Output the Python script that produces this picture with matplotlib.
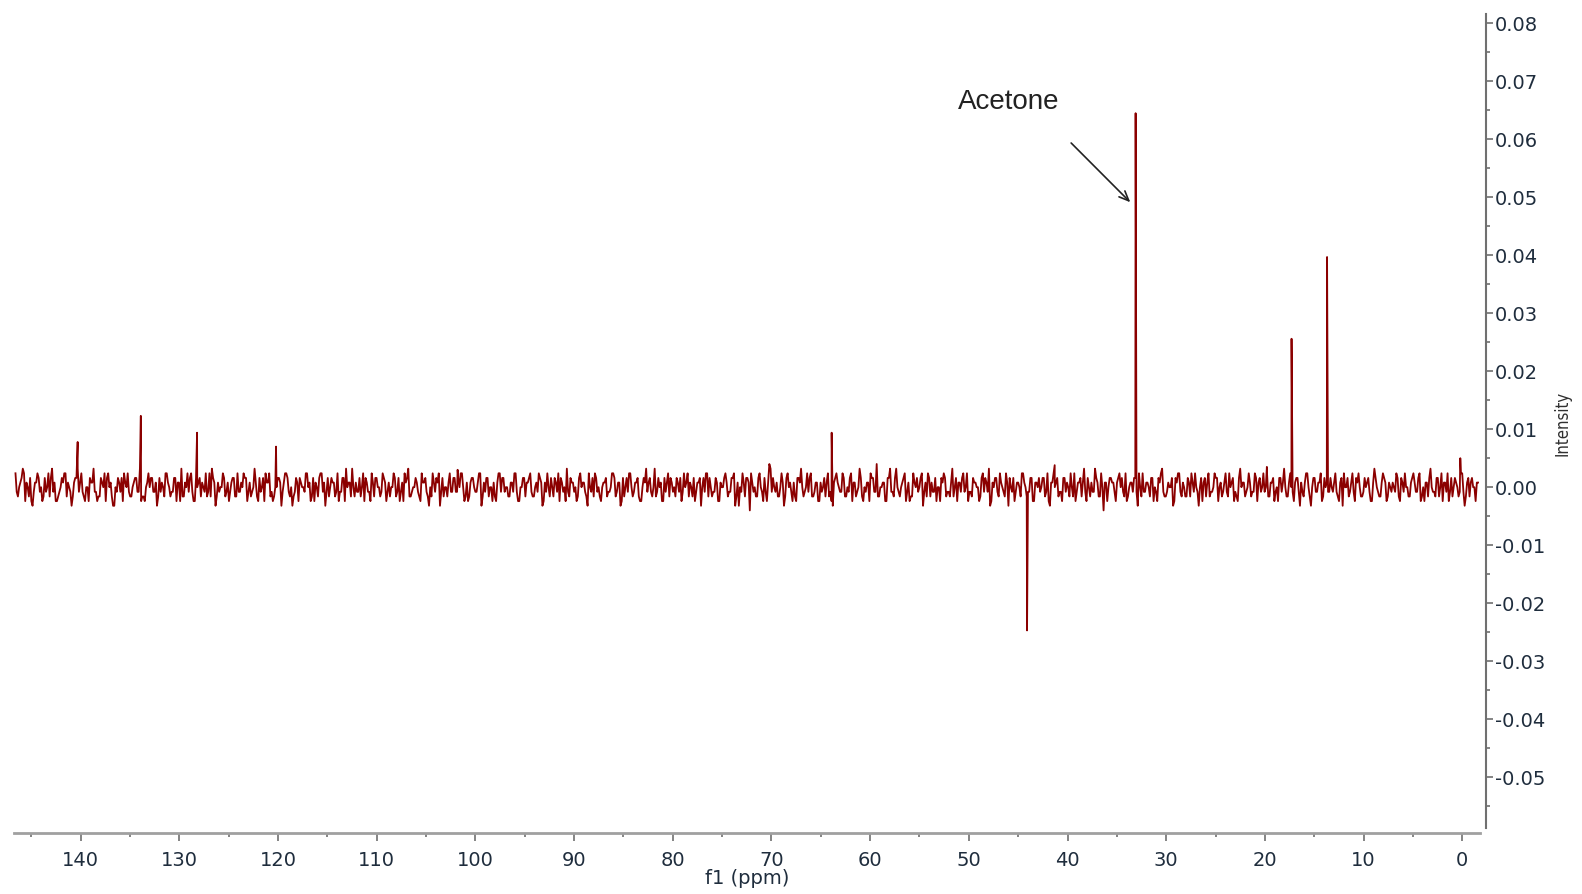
import matplotlib.pyplot as plt
from matplotlib.ticker import MultipleLocator, FormatStrFormatter
import numpy as np

# baseline noise, in units of noise_unit; two interleaved runs of samples
noise_a = [
    3, -2, 1, 4, -3, 0, 2, -4, 1, 3, -1, -3, 2, 0, -2, 4, 1, -3, -1, 2, 3, -2, 0, -4, 1, 2, -1, 3, -2, 0,
    -3, 1, 4, -1, -2, 2, 0, -3, 3, 1, -4, 0, 2, -1, -3, 1, 3, -2, 0, 2, -1, 4, -2, -3, 1, 0, 2, -1, -4, 2,
    1, -2, 3, 0, -1, 2, -3, 1, 4, -2, 0, -1, 3, -3, 2, 1, -2, 0, 3, -1, -2, 2, -4, 1, 0, 3, -2, 1, -1, 2,
    -2, 3, -1, 0, 2, -3, 1, -1, 4, -2, 2, 0, -3, 1, 3, -1, -2, 0, 2, -4, 1, 3, -1, 0, -2, 2, -3, 1, 0, 3,
    0, -3, 2, 1, -2, 3, -1, -4, 2, 0, 1, -2, 3, -1, 2, -3, 0, 1, 4, -2, -1, 2, 0, -3, 1, -1, 3, -2, 2, 0,
    -1, 2, -3, 1, 0, 3, -2, 2, -1, -3, 1, 4, -2, 0, 2, -1, -3, 1, 2, -2, 0, 3, -1, 1, -4, 2, 0, -2, 3, -1,
    2, -1, 0, 3, -3, 1, -2, 2, 0, -1, 3, -4, 1, 2, -2, 0, 1, -3, 3, -1, 2, 0, -2, 1, -1, 3, -3, 0, 2, -2,
    1, 3, -2, 0, -1, 2, -4, 1, 3, -2, 0, 2, -1, -3, 1, 0, 4, -2, 1, -1, -3, 2, 0, 1, -2, 3, -1, -2, 2, 0,
    -3, 1, 2, -1, 0, 3, -2, 1, -4, 2, 0, -1, 3, -2, 1, 2, -3, 0, 1, -1, 2, -2, 4, -1, 0, -3, 2, 1, -2, 1,
    0, 2, -1, -3, 3, 1, -2, 0, 2, -1, 1, -4, 2, 3, -2, 0, -1, 2, -3, 1, 0, 3, -2, -1, 2, -4, 1, 0, 3, -2,
    2, -5, 1, 0, -2, 3, -1, 2, -3, 5, -1, 0, 1, -2, 3, -4, 2, 0, -1, 1, -3, 2, 4, -2, 0, -1, 3, -2, 1, -3,
    1, 0, -2, 3, -1, -4, 2, 1, -1, 3, -2, 0, 2, -3, 1, -1, 4, -2, 0, 1, -3, 2, -1, 5, -2, 0, 1, -3, 2, -1,
    -2, 4, -1, 0, 2, -3, 1, -2, 3, 0, -1, 2, -4, 1, 3, -2, -1, 2, 0, -3, 1, 2, -1, -2, 4, 0, -3, 1, 2, -1,
    3, -1, -2, 1, 0, -3, 2, -1, 1, 4, -3, 0, 2, -2, 1, -1, 3, -4, 0, 2, -1, 1, -2, 3, 0, -1, 2, -3, 1, 0,
    -1, 2, -2, 3, -4, 1, 0, 2, -1, -3, 2, 1, -2, 0, 3, -1, 1, -2, 4, -3, 0, 1, -1, 2, -2, 3, -5, 1, 0, 2,
    1, -3, 2, 0, -1, 3, -2, 1, -1, 2, -4, 0, 3, -1, 1, -2, 2, 0, -3, 1, 4, -2, -1, 0, 2, -3, 1, 3, -2, 0,
    -2, 1, 3, -1, 0, -4, 2, 1, -2, 3, -1, 0, 2, -3, 1, -1, 3, -2, 0, 2, -1, -3, 4, 1, -2, 0, 1, -1, 3, -3,
    2, 0, -1, 3, -2, 1, -3, 0, 2, -1, 4, -2, 1, 0, -3, 2, -1, 1, -2, 3, 0, -4, 2, -1, 1, 3, -2, 0, -1, 2,
    -1, 3, -2, 1, -4, 0, 2, -1, 3, -3, 1, 0, -2, 2, 1, -1, -3, 4, 0, -2, 1, 2, -3, 1, -1, 0, 3, -2, 2, -1,
    0, -2, 1, 3, -1, 2, -3, 0, 1, -2, 4, -1, -2, 2, 0, -3, 1, 3, -1, -2, 2, 0, -1, 3, -4, 1, -2, 2, 0, 1,
]
noise_b = [
    -1, 0, 2, 3, 1, -2, -3, -1, 1, 2, 0, -2, -1, 3, 2, -1, -3, -2, 0, 1, 3, 1, -1, -2, 2, 4, 1, -1, -3, 0,
    2, 1, -1, -3, -2, 1, 3, 2, 0, -2, -4, -1, 1, 2, 3, 0, -1, -2, 1, 2, -1, -3, -2, 0, 3, 2, -1, 1, -2, -1,
    0, 3, 1, -2, -1, 2, 1, -3, -2, 1, 3, 2, -1, -3, 0, 2, 1, -1, -2, 3, 4, 1, -2, -1, 0, 2, -1, -3, 1, 2,
    -2, -1, 1, 3, 2, -1, -2, 0, 1, -3, -1, 2, 3, 1, -2, -3, 0, 2, 1, -1, 3, 2, -2, -4, -1, 1, 2, 0, -1, 3,
    1, -2, -3, 0, 2, 3, 1, -1, -2, 2, 1, -1, -3, -1, 2, 4, 1, -2, 0, 1, -1, -2, 3, 2, -1, -3, 1, 2, 0, -2,
    3, 1, -1, -2, 0, 2, -1, -3, 1, 3, 2, -2, -1, 0, 1, -2, 3, 1, -1, -4, -2, 1, 2, 3, -1, -2, 0, 1, -1, 2,
    -1, 2, 3, 0, -2, -3, 1, 2, -1, 1, 3, -2, -1, 2, 0, -3, -2, 1, 3, 2, -1, 0, -2, 1, 3, -1, -3, 0, 2, 1,
    2, -1, -2, 1, 3, 1, -3, -1, 0, 2, -2, 1, 3, 2, -1, -3, -1, 2, 1, 0, -2, 3, 1, -1, -4, 0, 2, 3, -1, -2,
    0, 1, -2, -1, 3, 2, -1, 1, -3, -2, 2, 3, 0, -1, 1, -2, -3, 2, 4, 1, -1, 0, -2, 2, 1, -3, -1, 3, 2, -1,
    -2, 1, 2, -1, 0, 3, 1, -2, -3, 1, 2, 0, -1, 3, 2, -2, -1, 1, -3, 0, 2, 1, -1, 2, 3, -2, -4, -1, 1, 2,
    1, 3, -1, -2, 2, 0, -3, -1, 1, 4, 2, -1, -2, 0, 1, -2, 3, 1, -3, -2, 2, 1, 0, -1, 3, 2, -2, -1, 1, -3,
    -1, 2, 1, -2, -3, 1, 3, 0, -1, 2, -2, -1, 3, 1, -2, 0, 2, -3, -1, 1, 3, 2, -1, -2, 0, 1, -3, 2, 4, -1,
    2, 0, -2, 1, 3, -1, -3, -2, 1, 2, 0, 3, -1, -2, 2, 1, -1, -3, 0, 2, 3, -2, -1, 1, -2, 2, 1, -1, 3, 0,
    -3, -1, 2, 1, 0, -2, 3, 2, -1, -4, 1, 2, -1, 3, 0, -2, 1, 2, -1, -3, 1, 0, 3, 1, -2, -1, 2, -3, 1, 2,
    0, 2, -1, -3, 1, 3, 1, -2, -1, 2, -1, 0, 3, -2, -3, 1, 2, 1, -1, 2, -2, -1, 4, 1, -2, 0, 1, -3, 2, 1,
    -1, 1, 3, 2, -2, -3, 0, 1, 2, -1, 3, -2, -1, 1, 0, 2, -3, -1, 2, 3, -1, -2, 1, 0, -4, 2, 3, -1, 1, -2,
    2, -2, 1, 3, -1, 0, -3, 2, 1, -2, -1, 3, 2, 0, -2, 1, -1, 3, 1, -3, -2, 2, 0, 1, -1, 3, -2, -1, 2, 1,
    -1, 3, 0, -2, 1, 2, -1, -3, 2, 1, 0, -2, 3, -1, 1, 2, -4, -1, 1, 3, -2, 0, 2, -1, 1, -3, 2, 1, -1, 0,
    1, -1, -3, 2, 3, 0, -2, 1, -1, 2, 3, -2, -1, 0, 2, -3, 1, 2, -1, -2, 3, 1, -2, 0, 1, -1, 2, -3, 1, 3,
    0, -2, 2, 1, -1, 3, -2, -3, 1, 2, 0, -1, 2, -2, 3, 1, -1, -3, 2, 0, 1, -2, 3, -1, -2, 2, 1, 0, -3, 1,
]
noise_unit = 0.0008
noise_start, noise_end = 146.6, -1.6

# peaks (ppm, intensity)
peak_ppm = [140.3, 133.9, 128.2, 120.2, 101.8, 63.9, 44.1, 41.3, 33.1, 19.8, 17.3, 13.7, 0.2]
peak_int = [0.0078, 0.0123, 0.0094, 0.0070, 0.0030, 0.0094, -0.0247, 0.0038, 0.0645,
            0.0035, 0.0256, 0.0397, 0.0050]

x_ticks = [140, 130, 120, 110, 100, 90, 80, 70, 60, 50, 40, 30, 20, 10, 0]
y_ticks = [-0.05, -0.04, -0.03, -0.02, -0.01, 0.00, 0.01, 0.02, 0.03, 0.04, 0.05, 0.06, 0.07, 0.08]

noise = np.empty(len(noise_a) + len(noise_b))
noise[0::2] = noise_a
noise[1::2] = noise_b
ppm = np.concatenate([np.linspace(noise_start, noise_end, len(noise)), peak_ppm])
inten = np.concatenate([noise * noise_unit, peak_int])
order = np.argsort(-ppm)
ppm, inten = ppm[order], inten[order]

fig = plt.figure(figsize=(15.82, 8.94), dpi=100)
ax = fig.add_axes([0.00885, 0.0678, 0.9267, 0.9165])

ax.plot(ppm, inten, color='#8b0000', lw=1.3)

ax.set_xlim(146.75, -1.8)
ax.set_ylim(-0.0597, 0.0816)

tick_col = '#1f2d3d'
ax.spines['top'].set_visible(False)
ax.spines['left'].set_visible(False)
ax.spines['bottom'].set_color('#a0a0a0')
ax.spines['bottom'].set_linewidth(2.0)
ax.spines['right'].set_color('#707070')
ax.spines['right'].set_linewidth(1.5)
ax.spines['right'].set_position(('outward', 4.5))
ax.spines['right'].set_bounds(-0.0587, 0.0816)

ax.set_xticks(x_ticks)
ax.xaxis.set_minor_locator(MultipleLocator(5))
ax.yaxis.tick_right()
ax.set_yticks(y_ticks)
ax.yaxis.set_minor_locator(MultipleLocator(0.005))
ax.yaxis.set_major_formatter(FormatStrFormatter('%.2f'))
ax.tick_params(axis='x', which='major', length=6, width=1.2, color='#707070',
               labelsize=14, labelcolor=tick_col, pad=7)
ax.tick_params(axis='x', which='minor', length=3, width=1.2, color='#707070')
ax.tick_params(axis='y', which='major', length=5, width=1.2, color='#707070',
               labelsize=14, labelcolor=tick_col, pad=1)
ax.tick_params(axis='y', which='minor', length=3, width=1.2, color='#707070')

ax.set_xlabel('f1 (ppm)', fontsize=14, color=tick_col, labelpad=-1)
ax.yaxis.set_label_position('right')
ax.set_ylabel('Intensity', fontsize=12, color='#303030', fontstretch='condensed', labelpad=6)

ax.text(51.07, 0.0665, 'Acetone', fontsize=20, family='Liberation Sans',
        color='#222222', ha='left', va='center')
ax.annotate('', xy=(33.44, 0.0488), xytext=(39.83, 0.0597),
            arrowprops=dict(arrowstyle='->,head_length=0.7,head_width=0.3',
                            color='#222222', lw=1.2))

fig.savefig('out.png', dpi=100)
